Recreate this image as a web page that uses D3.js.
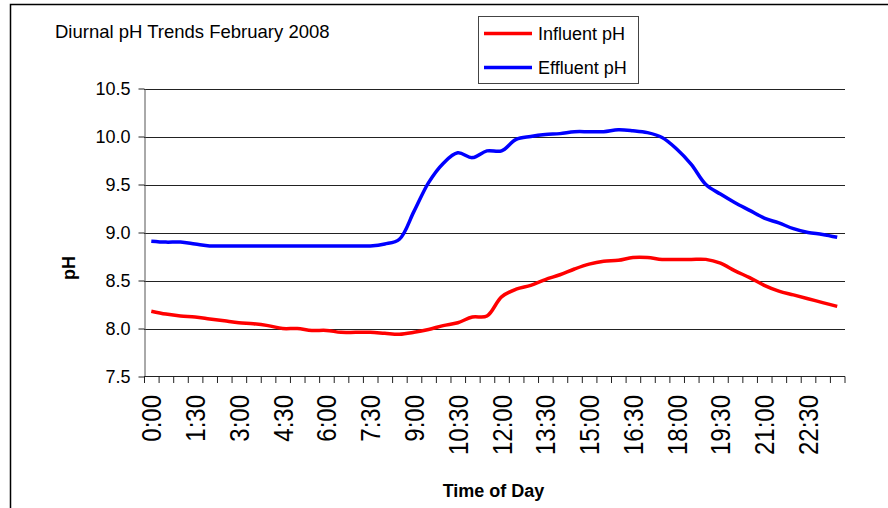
<!DOCTYPE html>
<html>
<head>
<meta charset="utf-8">
<script src="https://cdn.jsdelivr.net/npm/d3@7"></script>
<style>
  body { margin: 0; background: #fff; }
  svg { display: block; font-family: "Liberation Sans", Arial, sans-serif; }
</style>
</head>
<body>
<svg width="888" height="508"></svg>
<script>
// half hour categories
var times = ['0:00','0:30','1:00','1:30','2:00','2:30','3:00','3:30','4:00','4:30','5:00','5:30',
             '6:00','6:30','7:00','7:30','8:00','8:30','9:00','9:30','10:00','10:30','11:00','11:30',
             '12:00','12:30','13:00','13:30','14:00','14:30','15:00','15:30','16:00','16:30','17:00','17:30',
             '18:00','18:30','19:00','19:30','20:00','20:30','21:00','21:30','22:00','22:30','23:00','23:30'];

var influent = [8.18, 8.15, 8.13, 8.12, 8.10, 8.08, 8.06, 8.05, 8.03, 8.00, 8.00, 7.98,
                7.98, 7.96, 7.96, 7.96, 7.95, 7.94, 7.96, 7.99, 8.03, 8.06, 8.12, 8.13,
                8.33, 8.41, 8.45, 8.51, 8.56, 8.62, 8.67, 8.70, 8.71, 8.74, 8.74, 8.72,
                8.72, 8.72, 8.72, 8.68, 8.60, 8.53, 8.45, 8.39, 8.35, 8.31, 8.27, 8.23];

var effluent = [8.91, 8.90, 8.90, 8.88, 8.86, 8.86, 8.86, 8.86, 8.86, 8.86, 8.86, 8.86,
                8.86, 8.86, 8.86, 8.86, 8.88, 8.93, 9.22, 9.52, 9.72, 9.83, 9.78, 9.85,
                9.85, 9.97, 10.00, 10.02, 10.03, 10.05, 10.05, 10.05, 10.07, 10.06, 10.04, 9.99,
                9.87, 9.71, 9.50, 9.40, 9.31, 9.23, 9.15, 9.10, 9.04, 9.00, 8.98, 8.95];

var shownLabels = ['0:00','1:30','3:00','4:30','6:00','7:30','9:00','10:30','12:00','13:30',
                   '15:00','16:30','18:00','19:30','21:00','22:30'];
var yTicks = [7.5, 8.0, 8.5, 9.0, 9.5, 10.0, 10.5];

var svg = d3.select('svg');

// outer frame
svg.append('rect')
   .attr('x', 10.5).attr('y', 4.5)
   .attr('width', 900).attr('height', 600)
   .attr('fill', 'none').attr('stroke', '#000').attr('stroke-width', 1.5);

var x = d3.scaleBand().domain(times).range([144, 844.5]).padding(0),
    y = d3.scaleLinear().domain([7.5, 10.5]).range([376.5, 88.5]),
    half = x.bandwidth() / 2;

// gridlines
svg.append('g').selectAll('line')
   .data(yTicks.slice(1))
   .enter().append('line')
   .attr('x1', 144).attr('x2', 845)
   .attr('y1', function(d) { return Math.round(y(d)) + 0.5; })
   .attr('y2', function(d) { return Math.round(y(d)) + 0.5; })
   .attr('stroke', '#222').attr('stroke-width', 1);

// y axis
var yAxis = svg.append('g')
   .attr('transform', 'translate(144.5,0)')
   .call(d3.axisLeft(y).tickValues(yTicks).tickFormat(d3.format('.1f')).tickSize(6).tickSizeOuter(0));
yAxis.select('.domain').attr('stroke', '#555');
yAxis.selectAll('.tick line').attr('stroke', '#222');
yAxis.selectAll('.tick text')
   .attr('x', -14).attr('dy', '0.36em')
   .style('font-size', '18px').style('font-family', '"Liberation Sans", Arial, sans-serif')
   .attr('fill', '#000');

// x axis line and ticks between categories
svg.append('line')
   .attr('x1', 144).attr('x2', 845)
   .attr('y1', 376.5).attr('y2', 376.5)
   .attr('stroke', '#222');

svg.append('g').selectAll('line')
   .data(times.concat(['end']))
   .enter().append('line')
   .attr('x1', function(d) { return (d === 'end' ? x.range()[1] : x(d)) + 0.5; })
   .attr('x2', function(d) { return (d === 'end' ? x.range()[1] : x(d)) + 0.5; })
   .attr('y1', 376.5).attr('y2', 383)
   .attr('stroke', '#222');

svg.append('g').selectAll('text')
   .data(shownLabels)
   .enter().append('text')
   .attr('transform', function(d) {
       return 'translate(' + (x(d) + half + 10) + ',395) rotate(-90) scale(1,1.15)';
   })
   .attr('text-anchor', 'end')
   .style('font-size', '24px')
   .text(function(d) { return d; });

// series (smoothed like the original)
var line = d3.line()
   .x(function(d, i) { return x(times[i]) + half; })
   .y(function(d) { return y(d); })
   .curve(d3.curveCatmullRom.alpha(0.5));

svg.append('path').datum(influent)
   .attr('d', line)
   .attr('fill', 'none').attr('stroke', '#ff0000')
   .attr('stroke-width', 3.5).attr('stroke-linejoin', 'round');

svg.append('path').datum(effluent)
   .attr('d', line)
   .attr('fill', 'none').attr('stroke', '#0000ff')
   .attr('stroke-width', 3.5).attr('stroke-linejoin', 'round');

// titles
svg.append('text')
   .attr('x', 55).attr('y', 38)
   .style('font-size', '18.5px')
   .text('Diurnal pH Trends February 2008');

svg.append('text')
   .attr('x', 493.5).attr('y', 497)
   .attr('text-anchor', 'middle')
   .style('font-size', '18px').style('font-weight', 'bold')
   .text('Time of Day');

svg.append('text')
   .attr('transform', 'translate(75,268) rotate(-90)')
   .attr('text-anchor', 'middle')
   .style('font-size', '18px').style('font-weight', 'bold')
   .text('pH');

// legend
var legend = svg.append('g');
legend.append('rect')
   .attr('x', 478.5).attr('y', 16.5)
   .attr('width', 160).attr('height', 67)
   .attr('fill', '#fff').attr('stroke', '#444').attr('stroke-width', 1);

var legendItems = [['Influent pH', '#ff0000'], ['Effluent pH', '#0000ff']];
legend.selectAll('line')
   .data(legendItems)
   .enter().append('line')
   .attr('x1', 484).attr('x2', 532)
   .attr('y1', function(d, i) { return 33.5 + i * 34; })
   .attr('y2', function(d, i) { return 33.5 + i * 34; })
   .attr('stroke', function(d) { return d[1]; })
   .attr('stroke-width', 3.5);
legend.selectAll('text')
   .data(legendItems)
   .enter().append('text')
   .attr('x', 538)
   .attr('y', function(d, i) { return 40 + i * 34; })
   .style('font-size', '18px')
   .text(function(d) { return d[0]; });
</script>
</body>
</html>
